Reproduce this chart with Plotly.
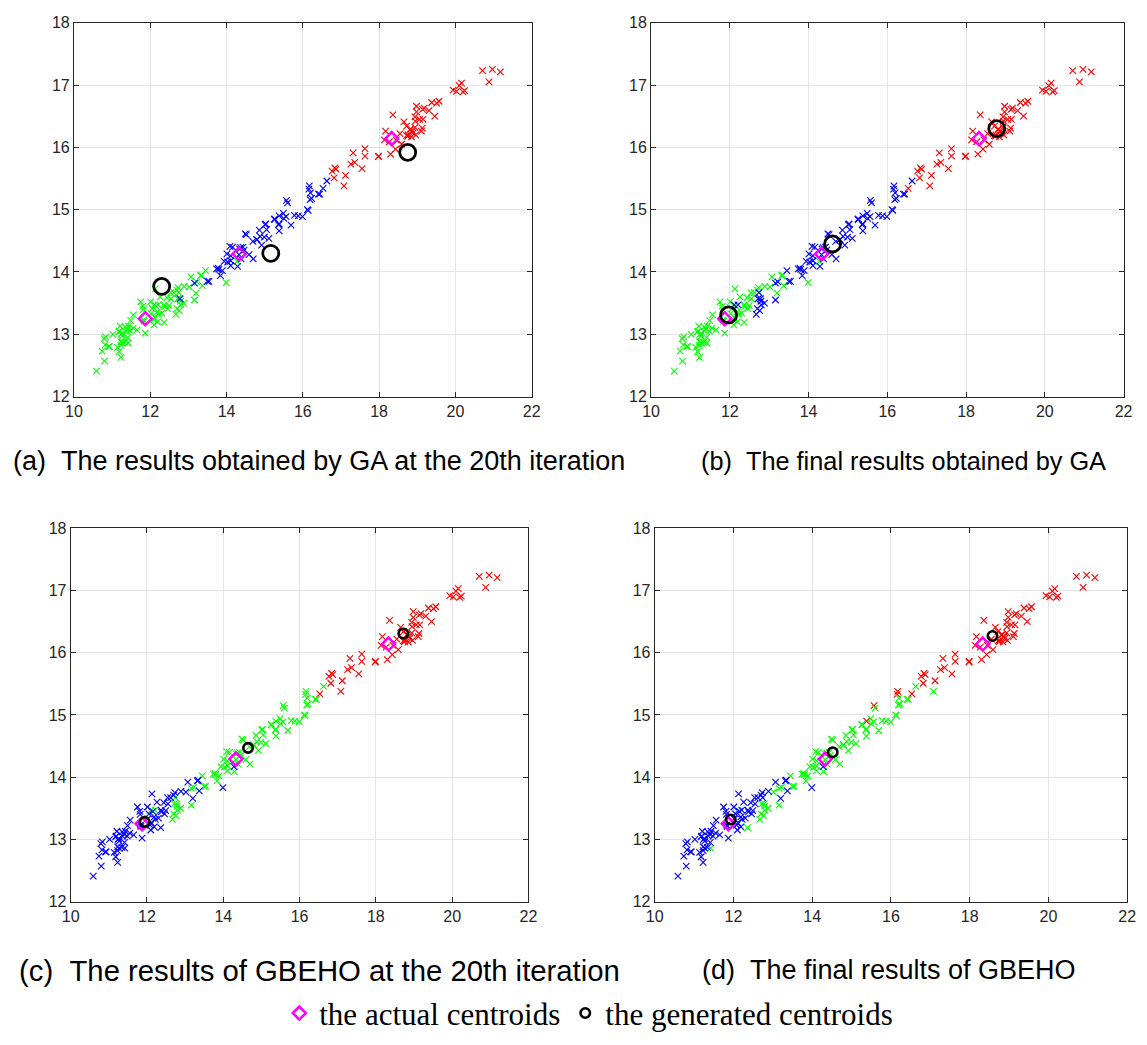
import plotly.graph_objects as go

# Seed kernels: area (x) and perimeter (y), three varieties of 70 kernels each
AREA = [
    # variety 1
    15.26, 14.88, 14.29, 13.84, 16.14, 14.38, 14.69, 14.11, 16.63, 16.44,
    15.26, 14.03, 13.89, 13.78, 13.74, 14.59, 13.99, 15.69, 14.70, 12.72,
    14.16, 14.11, 15.88, 12.08, 15.01, 16.19, 13.02, 12.74, 14.11, 13.45,
    13.16, 15.49, 14.09, 13.94, 15.05, 16.12, 16.20, 17.08, 14.80, 14.28,
    13.54, 13.50, 13.16, 15.50, 15.11, 13.80, 15.36, 14.99, 14.79, 14.86,
    14.43, 15.78, 14.49, 14.33, 14.52, 15.03, 14.46, 14.92, 15.38, 12.11,
    11.42, 11.23, 12.36, 13.22, 12.78, 12.88, 14.34, 14.01, 14.37, 12.73,
    # variety 2
    17.63, 16.84, 17.26, 19.11, 16.82, 16.77, 17.32, 20.71, 18.94, 17.12,
    16.53, 18.72, 20.20, 19.57, 19.51, 18.27, 18.88, 18.98, 21.18, 20.88,
    20.10, 18.76, 18.81, 18.59, 18.36, 16.87, 19.31, 18.98, 18.17, 18.72,
    16.41, 17.99, 19.46, 19.18, 18.95, 18.83, 18.85, 17.63, 19.94, 18.55,
    18.45, 19.38, 19.13, 19.14, 20.97, 19.06, 18.96, 19.15, 18.89, 20.03,
    20.24, 18.14, 16.17, 18.43, 15.99, 18.75, 18.65, 17.98, 20.16, 17.55,
    18.30, 18.94, 15.38, 16.16, 15.56, 15.38, 17.36, 15.57, 15.60, 16.23,
    # variety 3
    13.07, 13.32, 13.34, 12.22, 11.82, 11.21, 11.43, 12.49, 12.70, 10.79,
    11.83, 12.01, 12.26, 11.18, 11.36, 11.19, 11.34, 12.13, 11.75, 11.49,
    12.54, 12.02, 12.05, 12.55, 11.14, 12.10, 12.44, 12.15, 11.35, 11.24,
    11.02, 11.55, 11.27, 11.40, 10.83, 10.80, 11.26, 10.74, 11.48, 12.21,
    11.41, 12.46, 12.19, 11.65, 12.89, 11.56, 11.81, 10.91, 11.23, 10.59,
    10.93, 11.27, 11.87, 10.82, 12.11, 12.80, 12.79, 13.37, 12.62, 12.76,
    12.38, 12.67, 11.18, 12.70, 12.37, 12.19, 11.23, 13.20, 11.84, 12.30,
]

PERIMETER = [
    # variety 1
    14.84, 14.57, 14.09, 13.94, 14.99, 14.21, 14.49, 14.10, 15.46, 15.25,
    14.85, 14.16, 14.02, 14.06, 14.05, 14.28, 13.83, 14.75, 14.21, 13.57,
    14.40, 14.26, 14.90, 13.23, 14.76, 15.16, 13.76, 13.67, 14.18, 14.02,
    13.82, 14.94, 14.41, 14.17, 14.68, 15.00, 15.27, 15.38, 14.52, 14.17,
    13.85, 13.85, 13.55, 14.86, 14.54, 14.04, 14.76, 14.56, 14.52, 14.67,
    14.40, 14.91, 14.61, 14.28, 14.60, 14.77, 14.35, 14.43, 14.77, 13.47,
    12.86, 12.63, 13.19, 13.84, 13.57, 13.50, 14.37, 14.29, 14.39, 13.75,
    # variety 2
    15.98, 15.67, 15.73, 16.26, 15.51, 15.62, 15.91, 17.23, 16.49, 15.55,
    15.34, 16.19, 16.89, 16.74, 16.71, 16.09, 16.26, 16.66, 17.21, 17.05,
    16.99, 16.20, 16.29, 16.05, 16.52, 15.65, 16.59, 16.57, 16.26, 16.34,
    15.25, 15.86, 16.50, 16.63, 16.42, 16.29, 16.17, 15.86, 16.92, 16.22,
    16.12, 16.72, 16.31, 16.61, 17.25, 16.45, 16.20, 16.45, 16.23, 16.90,
    16.91, 16.12, 15.38, 15.97, 14.89, 16.18, 16.41, 15.85, 17.03, 15.66,
    15.89, 16.32, 14.90, 15.33, 14.89, 14.66, 15.76, 15.15, 15.11, 15.18,
    # variety 3
    13.92, 13.94, 13.95, 13.32, 13.40, 13.13, 13.13, 13.46, 13.71, 12.93,
    13.23, 13.52, 13.60, 13.04, 13.05, 13.05, 12.87, 13.73, 13.52, 13.22,
    13.67, 13.33, 13.41, 13.57, 12.79, 13.15, 13.59, 13.45, 13.12, 13.00,
    13.00, 13.10, 12.97, 13.08, 12.96, 12.57, 13.01, 12.73, 13.05, 13.47,
    12.95, 13.41, 13.36, 13.07, 13.77, 13.31, 13.45, 12.80, 12.82, 12.41,
    12.80, 12.86, 13.02, 12.83, 13.27, 13.47, 13.53, 13.78, 13.67, 13.38,
    13.44, 13.32, 12.72, 13.41, 13.47, 13.20, 12.88, 13.66, 13.21, 13.34,
]


def _labels(text):
    return "".join(text.split())


# Cluster assigned to every kernel (r / g / b), one string per result
LABELS_GA_20 = _labels("""
    bbbbbbbbbb bbbbbbgbbg bbbgbbggbg bbbbbbbrbg bbgbbbbbbb bbbbbbbbbg ggggbgbbbg
    rrrrrrrrrr brrrrrrrrr rrrrrrrrrr brrrrrrrrr rrrrrrrrrr rrbrbrrrrr rrbbbbrbbb
    gggggggggg gggggggggg gggggggggg gggggggggg gggggggggg gggggggggg gggggggggg
""")
LABELS_GA_FINAL = _labels("""
    bbbbbbbbbb bbbbbbgbbb bbbgbbgbbb bbbbbbbrbg bbbbbbbbbb bbbbbbbbbb gggbbbbbbg
    rrrrrrrrrr rrrrrrrrrr rrrrrrrrrr brrrrrrrrr rrrrrrrrrr rrbrbrrrrr rrbbbbrbbb
    gggggggggg gggggggggg gggggggggg gggggggggb gggggggggg gggggbbggb gbgbgggggg
""")
LABELS_GBEHO_20 = _labels("""
    gggggggggg ggggggbggg gggbggbggg gggggggrgb gggggggggg gggggggggg bbbggggggb
    rrrrrrrrrr rrrrrrrrrr rrrrrrrrrr grrrrrrrrr rrrrrrrrrr rrgrgrrrrr rrggggrggg
    bbbbbbbbbb bbbbbbbbbb bbbbbbbbbb bbbbbbbbbg bbbbbbbbbb bbbbbggbbg bgbgbbbbbb
""")
LABELS_GBEHO_FINAL = _labels("""
    gggggggggg ggggggbggg gggbgggbgg gggggggggb gggggggggg gggggggggg gbgggggggb
    rrrrrrrrrr rrrrrrrrrr rrrrrrrrrr grrrrrrrrr rrrrrrrrrr rrrrgrrrrr rrrrggrrgg
    bbbbbbbbbb bbbbbbbbbb bbbbbbbbbb bbbbbbbbbb bbbbbbbbbb bbbbbggbbg bgbgbbbbbb
""")

# Centroids: the actual class means and those produced by each algorithm
ACTUAL_X = [11.87, 14.33, 18.33]
ACTUAL_Y = [13.25, 14.29, 16.14]

GEN_GA_20_X = [12.30, 15.16, 18.75]
GEN_GA_20_Y = [13.77, 14.30, 15.92]
GEN_GA_FINAL_X = [11.97, 14.61, 18.78]
GEN_GA_FINAL_Y = [13.31, 14.45, 16.30]
GEN_GBEHO_20_X = [11.94, 14.65, 18.72]
GEN_GBEHO_20_Y = [13.28, 14.47, 16.31]
GEN_GBEHO_FINAL_X = [11.93, 14.52, 18.58]
GEN_GBEHO_FINAL_Y = [13.32, 14.40, 16.27]

CAPTIONS = [
    "(a)\u00a0\u00a0The results obtained by GA at the 20th iteration",
    "(b)\u00a0\u00a0The final results obtained by GA",
    "(c)\u00a0\u00a0The results of GBEHO at the 20th iteration",
    "(d)\u00a0\u00a0The final results of GBEHO",
]
X_TICKS = [10, 12, 14, 16, 18, 20, 22]
Y_TICKS = [12, 13, 14, 15, 16, 17, 18]

COLORS = {"r": "#ff0000", "g": "#00ff00", "b": "#0000ff"}
W, H = 1147, 1045

# pixel boxes of the four axes: (left, right, top, bottom)
BOXES = [
    (66.0, 531.0, 15.0, 395.0),
    (652.3, 1132.3, 15.0, 395.0),
    (62.7, 527.7, 529.0, 908.3),
    (656.0, 1136.0, 529.0, 908.3),
]

panels = [
    (LABELS_GA_20, GEN_GA_20_X, GEN_GA_20_Y, 16, 2.8),
    (LABELS_GA_FINAL, GEN_GA_FINAL_X, GEN_GA_FINAL_Y, 16, 2.8),
    (LABELS_GBEHO_20, GEN_GBEHO_20_X, GEN_GBEHO_20_Y, 9.5, 2.6),
    (LABELS_GBEHO_FINAL, GEN_GBEHO_FINAL_X, GEN_GBEHO_FINAL_Y, 9.5, 2.6),
]

fig = go.Figure()

for i, (labels, gx, gy, circ_size, circ_w) in enumerate(panels):
    suffix = "" if i == 0 else str(i + 1)
    xa, ya = "x" + suffix, "y" + suffix
    for code in ("r", "g", "b"):
        idx = [k for k, c in enumerate(labels) if c == code]
        fig.add_trace(go.Scatter(
            x=[AREA[k] for k in idx], y=[PERIMETER[k] for k in idx],
            mode="markers", xaxis=xa, yaxis=ya, showlegend=False,
            marker=dict(symbol="x-thin", size=6.5, color=COLORS[code],
                        line=dict(color=COLORS[code], width=1.1)),
            hoverinfo="skip",
        ))
    fig.add_trace(go.Scatter(
        x=ACTUAL_X, y=ACTUAL_Y, mode="markers", xaxis=xa, yaxis=ya,
        name="the actual centroids", legendgroup="actual",
        showlegend=(i == 0),
        marker=dict(symbol="diamond-open", size=10, color="#ff00ff",
                    line=dict(color="#ff00ff", width=2.5)),
    ))
    fig.add_trace(go.Scatter(
        x=gx, y=gy, mode="markers", xaxis=xa, yaxis=ya,
        name="the generated centroids", legendgroup="generated",
        showlegend=(i == 3),
        marker=dict(symbol="circle-open", size=circ_size, color="#000000",
                    line=dict(color="#000000", width=circ_w)),
    ))

axis_common = dict(
    showgrid=True, gridcolor="#e4e4e4", gridwidth=1,
    showline=True, linecolor="#262626", linewidth=1, mirror="ticks",
    ticks="inside", ticklen=5, tickcolor="#262626", tickwidth=1,
    tickfont=dict(family="Liberation Sans", size=16, color="#262626"),
    zeroline=False, fixedrange=True,
)

layout_axes = {}
for i, (l, r, t, b) in enumerate(BOXES):
    suffix = "" if i == 0 else str(i + 1)
    layout_axes["xaxis" + suffix] = dict(
        axis_common, domain=[l / W, r / W], range=[10, 22],
        tickvals=X_TICKS, anchor="y" + suffix,
    )
    layout_axes["yaxis" + suffix] = dict(
        axis_common, domain=[1 - b / H, 1 - t / H], range=[12, 18],
        tickvals=Y_TICKS, anchor="x" + suffix,
    )

# caption centre (px) and font size for each subfigure
caption_pos = [(315, 460, 27), (908.5, 460, 25.3), (315.5, 978, 29.3),
               (894, 978, 27)]
annotations = [
    dict(text=txt, x=cx / W, y=1 - cy / H, xref="paper", yref="paper",
         xanchor="center", yanchor="middle", showarrow=False,
         font=dict(family="Liberation Sans", size=fs, color="#000000"))
    for txt, (cx, cy, fs) in zip(CAPTIONS, caption_pos)
]

fig.update_layout(
    width=W, height=H, margin=dict(l=0, r=0, t=0, b=0),
    paper_bgcolor="white", plot_bgcolor="white",
    annotations=annotations,
    legend=dict(
        orientation="h", x=589 / W, xanchor="center", y=1 - 1022 / H,
        yanchor="middle", font=dict(family="Liberation Serif", size=31,
                                    color="#000000"),
        bgcolor="rgba(0,0,0,0)", itemsizing="trace", itemclick=False,
    ),
    **layout_axes,
)

fig.write_html("out.html")
